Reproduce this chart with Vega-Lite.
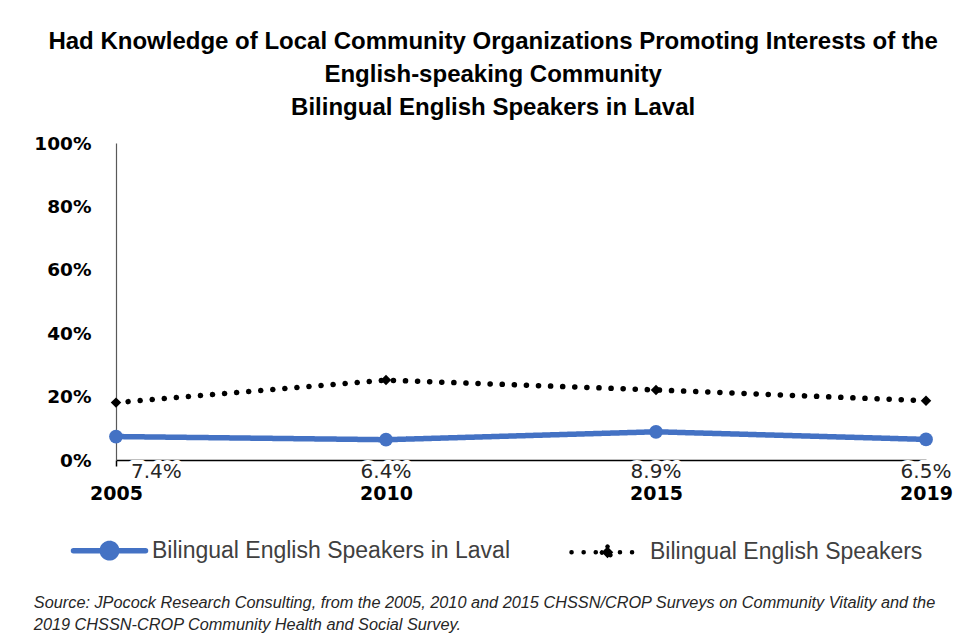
{
  "$schema": "https://vega.github.io/schema/vega-lite/v6.json",
  "padding": {"left": 33, "top": 30, "right": 10, "bottom": 4},
  "background": "white",
  "title": {
    "text": ["Had Knowledge of Local Community Organizations Promoting Interests of the", "English-speaking Community", "Bilingual  English Speakers in Laval"],
    "font": "Liberation Sans", "fontSize": 24, "fontWeight": "bold", "lineHeight": 33,
    "color": "#000000", "anchor": "middle", "offset": 14
  },
  "datasets": {
    "main": [
      {"year": "2005", "series": "Bilingual English Speakers in Laval", "value": 0.074},
      {"year": "2010", "series": "Bilingual English Speakers in Laval", "value": 0.064},
      {"year": "2015", "series": "Bilingual English Speakers in Laval", "value": 0.089},
      {"year": "2019", "series": "Bilingual English Speakers in Laval", "value": 0.065},
      {"year": "2005", "series": "Bilingual English Speakers", "value": 0.181},
      {"year": "2010", "series": "Bilingual English Speakers", "value": 0.252},
      {"year": "2015", "series": "Bilingual English Speakers", "value": 0.221},
      {"year": "2019", "series": "Bilingual English Speakers", "value": 0.187}
    ]
  },
  "vconcat": [
    {
      "width": 810,
      "height": 317,
      "data": {"name": "main"},
      "title": {
        "text": ["Source: JPocock Research Consulting, from the 2005, 2010  and 2015  CHSSN/CROP Surveys on Community Vitality and the", "2019  CHSSN-CROP Community Health and Social Survey."],
        "orient": "bottom", "anchor": "start", "frame": "bounds",
        "font": "Liberation Sans", "fontStyle": "italic", "fontWeight": "normal",
        "fontSize": 16.3, "lineHeight": 22, "offset": 92, "color": "#262626"
      },
      "encoding": {
        "x": {
          "field": "year", "type": "ordinal",
          "scale": {"type": "point", "padding": 0},
          "axis": {
            "title": null, "labelAngle": 0, "labelFont": "DejaVu Sans", "labelFontWeight": "bold",
            "labelFontSize": 19, "labelColor": "#000000", "labelPadding": 18,
            "tickSize": 6, "tickColor": "#000000", "tickWidth": 1.5,
            "domainColor": "#000000", "domainWidth": 1.5, "grid": false
          }
        },
        "y": {
          "field": "value", "type": "quantitative",
          "scale": {"domain": [0, 1]},
          "axis": {
            "title": null, "format": "%", "values": [0, 0.2, 0.4, 0.6, 0.8, 1],
            "labelFont": "DejaVu Sans", "labelFontWeight": "bold", "labelFontSize": 18.5,
            "labelColor": "#000000", "labelPadding": 25, "ticks": false,
            "domainColor": "#595959", "domainWidth": 1.2, "grid": false
          }
        }
      },
      "layer": [
        {
          "mark": {"type": "line", "strokeWidth": 5.5, "strokeCap": "round"},
          "encoding": {
            "color": {
              "field": "series", "type": "nominal",
              "scale": {"domain": ["Bilingual English Speakers in Laval", "Bilingual English Speakers"], "range": ["#4472C4", "#000000"]},
              "legend": {
                "title": null, "orient": "none", "legendX": -18, "legendY": 396,
                "direction": "horizontal", "labelFont": "Liberation Sans", "labelFontSize": 23,
                "labelColor": "#404040", "labelLimit": 0, "symbolSize": 5184, "labelOffset": 31, "columnPadding": 52,
                "encode": {
                  "symbols": {
                    "update": {
                      "shape": {"signal": "datum.value == 'Bilingual English Speakers' ? 'M-1,0H1M0,-0.16L0.16,0L0,0.16L-0.16,0Z' : 'M-1,0H1M-0.2,0A0.2,0.2,0,1,1,0.2,0A0.2,0.2,0,1,1,-0.2,0Z'"},
                      "size": {"value": 5184},
                      "fill": {"signal": "datum.value == 'Bilingual English Speakers' ? '#000000' : '#4472C4'"},
                      "stroke": {"signal": "datum.value == 'Bilingual English Speakers' ? '#000000' : '#4472C4'"},
                      "strokeWidth": {"signal": "datum.value == 'Bilingual English Speakers' ? 4.5 : 5.5"},
                      "strokeDash": {"signal": "datum.value == 'Bilingual English Speakers' ? [0.1, 12] : [1, 0]"},
                      "strokeCap": {"value": "round"},
                      "opacity": {"value": 1}
                    }
                  }
                }
              }
            },
            "strokeDash": {
              "field": "series", "type": "nominal",
              "scale": {"domain": ["Bilingual English Speakers in Laval", "Bilingual English Speakers"], "range": [[1, 0], [0.1, 12]]},
              "legend": null
            }
          }
        },
        {
          "transform": [{"filter": "datum.series == 'Bilingual English Speakers in Laval'"}],
          "mark": {"type": "point", "filled": true, "opacity": 1, "shape": "circle", "size": 190},
          "encoding": {
            "color": {"field": "series", "type": "nominal"}
          }
        },
        {
          "transform": [{"filter": "datum.series == 'Bilingual English Speakers'"}],
          "mark": {"type": "point", "filled": true, "opacity": 1, "shape": "diamond", "size": 110},
          "encoding": {
            "color": {"field": "series", "type": "nominal"}
          }
        },
        {
          "transform": [{"filter": "datum.series == 'Bilingual English Speakers in Laval' && datum.year != '2005'"}],
          "mark": {"type": "text", "baseline": "top", "align": "center", "dy": 2, "font": "DejaVu Sans", "fontSize": 20, "stroke": "white", "strokeWidth": 8, "strokeJoin": "round", "fill": "white"},
          "encoding": {"y": {"datum": 0}, "text": {"field": "value", "type": "quantitative", "format": ".1%"}}
        },
        {
          "transform": [{"filter": "datum.series == 'Bilingual English Speakers in Laval' && datum.year == '2005'"}],
          "mark": {"type": "text", "baseline": "top", "align": "left", "dx": 15, "dy": 2, "font": "DejaVu Sans", "fontSize": 20, "stroke": "white", "strokeWidth": 8, "strokeJoin": "round", "fill": "white"},
          "encoding": {"y": {"datum": 0}, "text": {"field": "value", "type": "quantitative", "format": ".1%"}}
        },
        {
          "transform": [{"filter": "datum.series == 'Bilingual English Speakers in Laval' && datum.year != '2005'"}],
          "mark": {"type": "text", "baseline": "top", "align": "center", "dy": 2, "font": "DejaVu Sans", "fontSize": 20, "fill": "#262626"},
          "encoding": {"y": {"datum": 0}, "text": {"field": "value", "type": "quantitative", "format": ".1%"}}
        },
        {
          "transform": [{"filter": "datum.series == 'Bilingual English Speakers in Laval' && datum.year == '2005'"}],
          "mark": {"type": "text", "baseline": "top", "align": "left", "dx": 15, "dy": 2, "font": "DejaVu Sans", "fontSize": 20, "fill": "#262626"},
          "encoding": {"y": {"datum": 0}, "text": {"field": "value", "type": "quantitative", "format": ".1%"}}
        }
      ]
    }
  ],
  "config": {"view": {"stroke": null}}
}
